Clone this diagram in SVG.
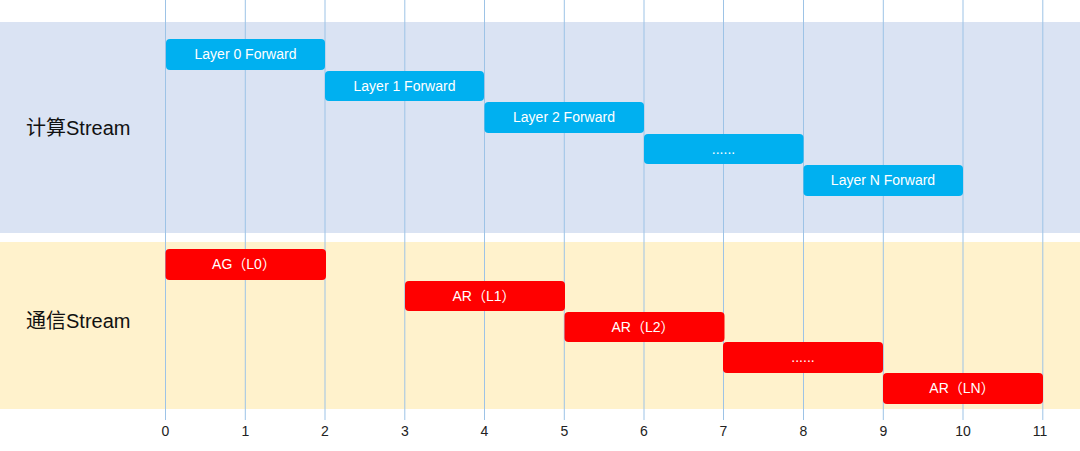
<svg xmlns="http://www.w3.org/2000/svg" width="1080" height="451" viewBox="0 0 1080 451">
<style>
.grid{stroke:#9dc3e6;stroke-width:1}
.b{fill:#00b0f0}
.r{fill:#ff0000}
.t{font-family:"Liberation Sans","Noto Sans CJK SC",sans-serif;fill:#fff;font-size:14px;text-anchor:middle}
.ax{font-family:"Liberation Sans",sans-serif;fill:#222;font-size:14px;text-anchor:middle}
.lab{font-family:"Liberation Sans","Noto Sans CJK SC",sans-serif;fill:#111;font-size:20px}
</style>
<rect x="0" y="22" width="1080" height="211" fill="#dae3f3"/>
<rect x="0" y="242" width="1080" height="167" fill="#fff2cc"/>
<g id="grid">
<line class="grid" x1="165.5" y1="0" x2="165.5" y2="420"/>
<line class="grid" x1="245.3" y1="0" x2="245.3" y2="420"/>
<line class="grid" x1="325" y1="0" x2="325" y2="420"/>
<line class="grid" x1="404.8" y1="0" x2="404.8" y2="420"/>
<line class="grid" x1="484.5" y1="0" x2="484.5" y2="420"/>
<line class="grid" x1="564.3" y1="0" x2="564.3" y2="420"/>
<line class="grid" x1="644" y1="0" x2="644" y2="420"/>
<line class="grid" x1="723.5" y1="0" x2="723.5" y2="420"/>
<line class="grid" x1="803.5" y1="0" x2="803.5" y2="420"/>
<line class="grid" x1="883.3" y1="0" x2="883.3" y2="420"/>
<line class="grid" x1="963" y1="0" x2="963" y2="420"/>
<line class="grid" x1="1042.8" y1="0" x2="1042.8" y2="420"/>
</g>
<g id="axis">
<text class="ax" x="165.5" y="436">0</text>
<text class="ax" x="245.3" y="436">1</text>
<text class="ax" x="325" y="436">2</text>
<text class="ax" x="404.8" y="436">3</text>
<text class="ax" x="484.5" y="436">4</text>
<text class="ax" x="564.3" y="436">5</text>
<text class="ax" x="644" y="436">6</text>
<text class="ax" x="723.5" y="436">7</text>
<text class="ax" x="803.5" y="436">8</text>
<text class="ax" x="883.3" y="436">9</text>
<text class="ax" x="963" y="436">10</text>
<text class="ax" x="1040" y="436">11</text>
</g>
<text class="lab" x="26" y="135">计算Stream</text>
<text class="lab" x="26" y="328">通信Stream</text>
<g id="c0"><rect class="b" x="166" y="39" width="159" height="31" rx="4"/><text class="t" x="245.5" y="59">Layer 0 Forward</text></g>
<g id="c1"><rect class="b" x="325" y="71" width="159" height="30" rx="4"/><text class="t" x="404.5" y="91">Layer 1 Forward</text></g>
<g id="c2"><rect class="b" x="484.5" y="102" width="159.5" height="31" rx="4"/><text class="t" x="564" y="122">Layer 2 Forward</text></g>
<g id="c3"><rect class="b" x="644" y="134" width="159.5" height="30" rx="4"/><text class="t" x="723.5" y="154">......</text></g>
<g id="c4"><rect class="b" x="803.5" y="165" width="159.5" height="31" rx="4"/><text class="t" x="883" y="185">Layer N Forward</text></g>
<g id="m0"><rect class="r" x="165.5" y="249" width="160.5" height="31" rx="4"/><text class="t" x="244" y="269">AG（L0）</text></g>
<g id="m1"><rect class="r" x="405" y="281" width="160" height="30" rx="4"/><text class="t" x="484" y="301">AR（L1）</text></g>
<g id="m2"><rect class="r" x="564.5" y="312" width="160" height="30" rx="4"/><text class="t" x="643" y="332">AR（L2）</text></g>
<g id="m3"><rect class="r" x="723" y="342" width="160" height="31" rx="4"/><text class="t" x="803" y="362">......</text></g>
<g id="m4"><rect class="r" x="883" y="373" width="160" height="31" rx="4"/><text class="t" x="962" y="393">AR（LN）</text></g>
<g id="connectors"></g>
</svg>
